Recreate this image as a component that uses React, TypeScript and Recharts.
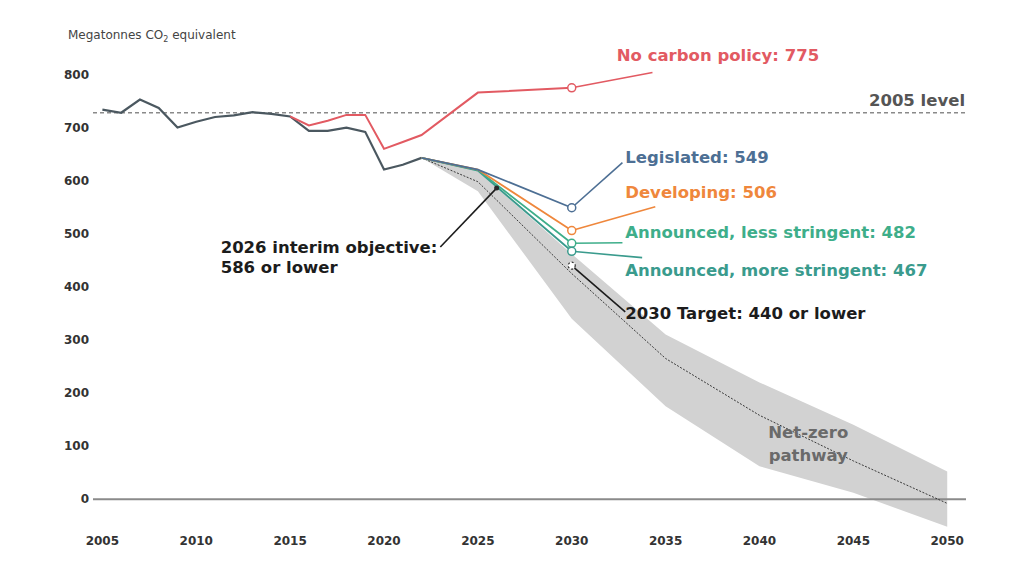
import {
  Area,
  ComposedChart,
  Line,
  ReferenceDot,
  ReferenceLine,
  XAxis,
  YAxis,
} from "recharts";

const FONT = "'DejaVu Sans', 'Noto Sans', sans-serif";

// historical emissions
const histYears = [
  2005, 2006, 2007, 2008, 2009, 2010, 2011, 2012, 2013, 2014, 2015, 2016, 2017,
  2018, 2019, 2020, 2021, 2022,
];
const histValues = [
  734, 728, 753, 737, 700, 711, 720, 723, 729, 726, 721, 694, 694, 700, 692, 621,
  630, 643,
];

// no carbon policy scenario
const noPolicyYears = [2015, 2016, 2017, 2018, 2019, 2020, 2021, 2022, 2025, 2030];
const noPolicyValues = [721, 704, 713, 724, 724, 660, 673, 686, 766, 775];

// projected scenarios
const projYears = [2022, 2025, 2030];
const legislated = [643, 621, 549];
const developing = [643, 621, 506];
const lessStringent = [643, 620, 482];
const moreStringent = [643, 619, 467];

// net-zero pathway (centre line + range)
const pathwayYears = [2022, 2025, 2030, 2035, 2040, 2045, 2050];
const pathwayCenter = [643, 598, 425, 265, 158, 72, -8];
const pathwayLow = [643, 580, 340, 175, 62, 12, -52];
const pathwayHigh = [643, 618, 462, 310, 220, 140, 52];

const xTicks = [2005, 2010, 2015, 2020, 2025, 2030, 2035, 2040, 2045, 2050];
const yTicks = [0, 100, 200, 300, 400, 500, 600, 700, 800];
const level2005 = 728;

const RED = "#e25a62";
const BLUE = "#4d6f94";
const ORANGE = "#ef873c";
const TEAL1 = "#3eae8a";
const TEAL2 = "#3a9b8d";
const DARK = "#1c1c1c";

type Row = { year: number; [k: string]: any };

function buildRows(): Row[] {
  const map = new Map<number, Row>();
  const put = (years: number[], key: string, values: any[]) =>
    years.forEach((y, i) => {
      const r = map.get(y) ?? { year: y };
      r[key] = values[i];
      map.set(y, r);
    });
  put(histYears, "hist", histValues);
  put(noPolicyYears, "noPolicy", noPolicyValues);
  put(projYears, "legislated", legislated);
  put(projYears, "developing", developing);
  put(projYears, "less", lessStringent);
  put(projYears, "more", moreStringent);
  put(pathwayYears, "center", pathwayCenter);
  put(
    pathwayYears,
    "band",
    pathwayYears.map((_, i) => [pathwayLow[i], pathwayHigh[i]])
  );
  return [...map.values()].sort((a, b) => a.year - b.year);
}

const rows = buildRows();

// callouts: label anchor and leader line, in data units
const callouts = [
  { lines: ["No carbon policy: 775"], color: RED, at: [2032.4, 836], from: [2030, 775], to: [2034.3, 804] },
  { lines: ["Legislated: 549"], color: BLUE, at: [2032.85, 645], from: [2030, 549], to: [2032.7, 634] },
  { lines: ["Developing: 506"], color: ORANGE, at: [2032.85, 579], from: [2030, 506], to: [2034.45, 551] },
  { lines: ["Announced, less stringent: 482"], color: TEAL1, at: [2032.85, 502], from: [2030, 482], to: [2032.7, 483] },
  { lines: ["Announced, more stringent: 467"], color: TEAL2, at: [2032.85, 432], from: [2030, 467], to: [2033.75, 455] },
  { lines: ["2030 Target: 440 or lower"], color: DARK, at: [2032.85, 351], from: [2030, 440], to: [2032.85, 353] },
  { lines: ["2026 interim objective:", "586 or lower"], color: DARK, at: [2011.3, 474], from: [2026, 586], to: [2023.0, 475] },
];

const markers = [
  { v: 775, color: RED },
  { v: 549, color: BLUE },
  { v: 506, color: ORANGE },
  { v: 482, color: TEAL1 },
  { v: 467, color: TEAL2 },
];

function textAt(
  key: string,
  x: number,
  y: number,
  lines: string[],
  color: string,
  opts: { size?: number; weight?: number; anchor?: "start" | "middle" | "end"; lh?: number } = {}
) {
  const { size = 16.5, weight = 700, anchor = "start", lh = 20 } = opts;
  return (
    <ReferenceDot
      key={key}
      x={x}
      y={y}
      r={0}
      ifOverflow="visible"
      shape={(p: any) => (
        <text
          x={p.cx}
          y={p.cy}
          fill={color}
          fontFamily={FONT}
          fontSize={size}
          fontWeight={weight}
          textAnchor={anchor}
        >
          {lines.map((t, i) => (
            <tspan key={i} x={p.cx} dy={i === 0 ? "0.35em" : lh}>
              {t}
            </tspan>
          ))}
        </text>
      )}
    />
  );
}

export default function App() {
  return (
    <div
      style={{
        position: "absolute",
        left: 0,
        top: 0,
        width: 1024,
        height: 576,
        background: "#fff",
        fontFamily: FONT,
      }}
    >
      <div
        style={{
          position: "absolute",
          left: 68,
          top: 28,
          fontSize: 12,
          color: "#444",
        }}
      >
        Megatonnes CO<sub style={{ fontSize: 8 }}>2</sub> equivalent
      </div>
      <ComposedChart
        width={1024}
        height={576}
        data={rows}
        margin={{ top: 48, right: 58, left: 0, bottom: 15 }}
      >
        <XAxis
          dataKey="year"
          type="number"
          domain={[2004.5, 2051]}
          ticks={xTicks}
          axisLine={false}
          tickLine={false}
          tickSize={0}
          tickMargin={5}
          height={30}
          tick={{ fontSize: 12, fontWeight: 700, fill: "#333", fontFamily: FONT }}
        />
        <YAxis
          type="number"
          domain={[-60, 850]}
          ticks={yTicks}
          axisLine={false}
          tickLine={false}
          tickSize={0}
          tickMargin={4}
          width={93}
          tick={{ fontSize: 12, fontWeight: 700, fill: "#333", fontFamily: FONT }}
        />
        <ReferenceLine y={0} stroke="#8a8a8a" strokeWidth={2} />
        <ReferenceLine
          y={level2005}
          stroke="#8a8a8a"
          strokeWidth={1.6}
          strokeDasharray="4 3"
        />
        <Area
          dataKey="band"
          stroke="none"
          fill="#d2d2d2"
          fillOpacity={1}
          connectNulls
          isAnimationActive={false}
        />
        <Line
          dataKey="center"
          stroke="#3a3a3a"
          strokeWidth={1}
          strokeDasharray="2 1.5"
          dot={false}
          connectNulls
          isAnimationActive={false}
        />
        <Line dataKey="hist" stroke="#4b5860" strokeWidth={2.2} dot={false} connectNulls isAnimationActive={false} />
        <Line dataKey="noPolicy" stroke={RED} strokeWidth={2} dot={false} connectNulls isAnimationActive={false} />
        <Line dataKey="more" stroke={TEAL2} strokeWidth={1.8} dot={false} connectNulls isAnimationActive={false} />
        <Line dataKey="less" stroke={TEAL1} strokeWidth={1.8} dot={false} connectNulls isAnimationActive={false} />
        <Line dataKey="developing" stroke={ORANGE} strokeWidth={1.8} dot={false} connectNulls isAnimationActive={false} />
        <Line dataKey="legislated" stroke={BLUE} strokeWidth={1.8} dot={false} connectNulls isAnimationActive={false} />
        {callouts.map((c, i) => (
          <ReferenceLine
            key={`l${i}`}
            segment={[
              { x: c.from[0], y: c.from[1] },
              { x: c.to[0], y: c.to[1] },
            ]}
            stroke={c.color}
            strokeWidth={1.6}
            ifOverflow="visible"
          />
        ))}
        {markers.map((m, i) => (
          <ReferenceDot
            key={`m${i}`}
            x={2030}
            y={m.v}
            r={4}
            fill="#fff"
            stroke={m.color}
            strokeWidth={1.5}
          />
        ))}
        <ReferenceDot x={2030} y={440} r={3.5} fill="#fff" stroke="#333" strokeWidth={1.2} strokeDasharray="2 2" />
        <ReferenceDot x={2026} y={586} r={2.5} fill="#2a2a2a" stroke="none" />
        {callouts.map((c, i) =>
          textAt(`t${i}`, c.at[0], c.at[1], c.lines, c.color)
        )}
        {textAt("lvl", 2050.95, 751, ["2005 level"], "#555", {
          weight: 600,
          anchor: "end",
        })}
        {textAt("nz", 2042.6, 126, ["Net-zero", "pathway"], "#6a6a6a", {
          anchor: "middle",
          weight: 700,
          lh: 23,
        })}
      </ComposedChart>
    </div>
  );
}
